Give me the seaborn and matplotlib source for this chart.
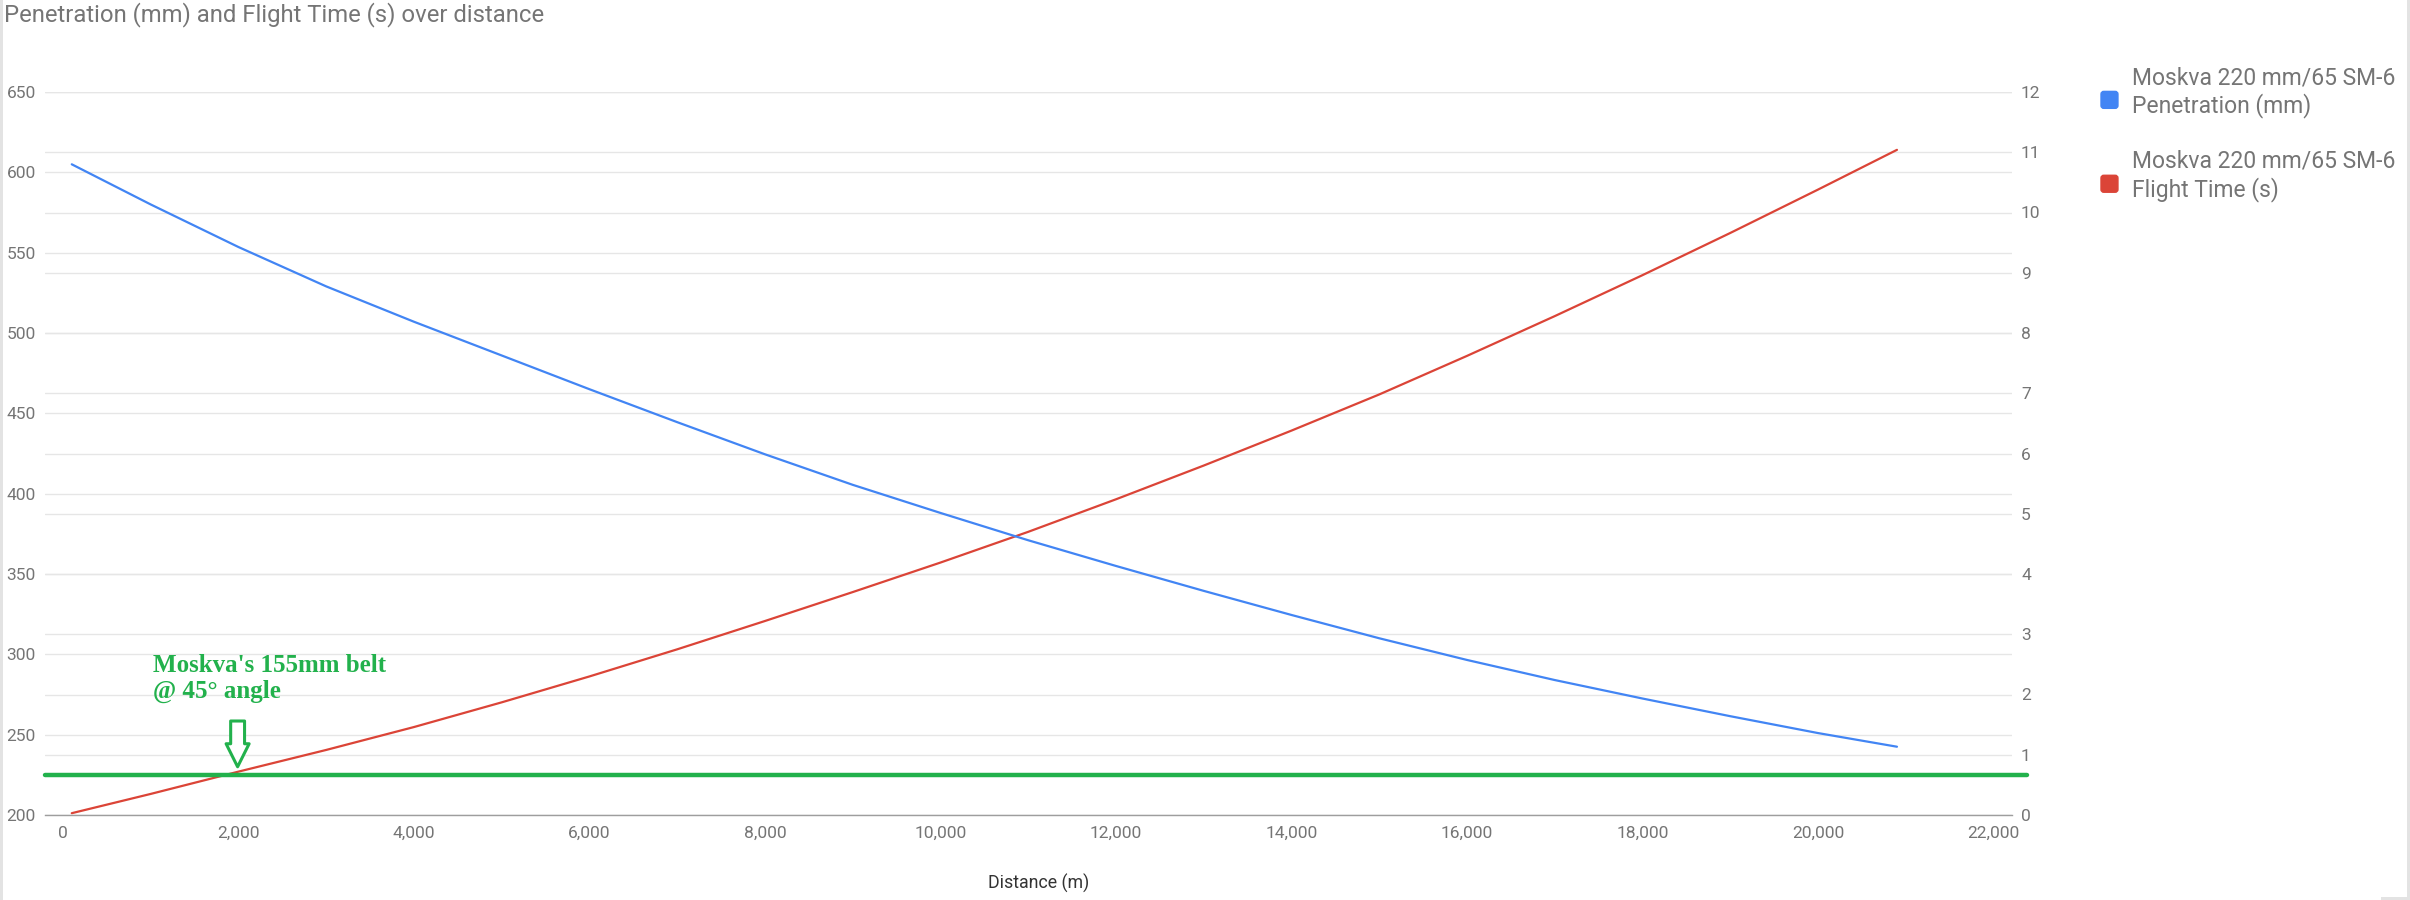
import numpy as np
import pandas as pd
import matplotlib
matplotlib.use("Agg")
import matplotlib.pyplot as plt
import seaborn as sns
from matplotlib.patches import Patch, Rectangle, FancyBboxPatch
from matplotlib.legend_handler import HandlerPatch
from matplotlib.ticker import FuncFormatter, FixedLocator

# ---------------- data ----------------
distance_m = [100, 1000, 2000, 3000, 4000, 5000, 6000, 7000, 8000, 9000, 10000,
              11000, 12000, 13000, 14000, 15000, 16000, 17000, 18000, 19000, 20000, 20900]
penetration_mm = [605, 580, 553.5, 529, 507, 486, 465, 444.5, 424.5, 405.5, 388,
                  371, 355, 339.5, 324.5, 310, 296.5, 284, 272.5, 261.5, 251, 242.5]
flight_time_s = [0.03, 0.35, 0.72, 1.08, 1.46, 1.87, 2.30, 2.75, 3.22, 3.70, 4.19,
                 4.70, 5.24, 5.80, 6.38, 6.98, 7.62, 8.28, 8.96, 9.66, 10.38, 11.04]
series_names = ["Moskva 220 mm/65 SM-6\nPenetration (mm)",
                "Moskva 220 mm/65 SM-6\nFlight Time (s)"]
belt_value_mm = 225
belt_label = "Moskva's 155mm belt\n@ 45° angle"
title_text = "Penetration (mm) and Flight Time (s) over distance"
x_label = "Distance (m)"
x_ticks = list(range(0, 22001, 2000))
left_ticks = list(range(200, 651, 50))
right_ticks = list(range(0, 13))

# ---------------- style ----------------
BLUE = "#4285f4"
RED = "#db4437"
GREEN = "#22b14c"
TXT = "#757575"
GRID = "#e6e6e6"

sns.set_theme(style="white")
plt.rcParams['font.family'] = ['Roboto', 'DejaVu Sans']

W, H = 2410, 900
fig = plt.figure(figsize=(W / 100, H / 100), dpi=100)
fig.patch.set_facecolor("white")

L, R, T, B = 45, 2012, 92, 815
pos = [L / W, 1 - B / H, (R - L) / W, (B - T) / H]

# background axes that only carries the left-scale gridlines (beneath all lines)
gax = fig.add_axes(pos, zorder=0)
gax.set_ylim(200, 650)
gax.yaxis.set_major_locator(FixedLocator(left_ticks))
gax.grid(axis="y", color=GRID, linewidth=1.0)
gax.grid(axis="x", visible=False)
gax.tick_params(left=False, bottom=False, labelleft=False, labelbottom=False)
for s in gax.spines.values():
    s.set_visible(False)

ax = fig.add_axes(pos, zorder=2)
ax2 = ax.twinx()
ax2.set_zorder(1)
ax.patch.set_visible(False)
ax2.patch.set_visible(False)

df = pd.DataFrame({"distance": distance_m,
                   "penetration": penetration_mm,
                   "flight_time": flight_time_s})

sns.lineplot(data=df, x="distance", y="flight_time", ax=ax2, color=RED,
             linewidth=1.6, legend=False)
sns.lineplot(data=df, x="distance", y="penetration", ax=ax, color=BLUE,
             linewidth=1.6, legend=False)

ax.set_xlim(-205, 22211)
gax.set_xlim(-205, 22211)
ax.set_ylim(200, 650)
ax2.set_ylim(0, 12)

ax.xaxis.set_major_locator(FixedLocator(x_ticks))
ax.xaxis.set_major_formatter(FuncFormatter(lambda v, p: f"{int(v):,}"))
ax.yaxis.set_major_locator(FixedLocator(left_ticks))
ax2.yaxis.set_major_locator(FixedLocator(right_ticks))

for a in (ax, ax2):
    for s in a.spines.values():
        s.set_visible(False)
    a.tick_params(length=0, labelsize=12.5, labelcolor=TXT)
    a.set_xlabel("")
    a.set_ylabel("")
    a.grid(False)

ax2.grid(axis="y", color=GRID, linewidth=1.0)
ax2.grid(axis="x", visible=False)
ax2.set_axisbelow(True)

ax.spines["bottom"].set_visible(True)
ax.spines["bottom"].set_color("#9e9e9e")
ax.spines["bottom"].set_linewidth(1.0)
ax.tick_params(axis="y", pad=6.5)
ax2.tick_params(axis="y", pad=6.5)
ax.tick_params(axis="x", pad=8)
ax2.tick_params(axis="x", bottom=False, labelbottom=False)

ax.set_xlabel(x_label, fontsize=12.8, color="#333333")
ax.xaxis.label.set_va("center")
ax.xaxis.set_label_coords((1039 - L) / (R - L), (B - 883) / (B - T))

# green belt line (extends slightly past the plot area)
ax.axhline(belt_value_mm, xmin=0, xmax=(2027 - L) / (R - L), color=GREEN,
           linewidth=3.2, clip_on=False, zorder=5)

# annotation text and hollow arrow
ax.text(1026, 300.5, belt_label, color=GREEN, fontsize=18, fontweight="bold",
        family=["Liberation Serif", "DejaVu Serif"], va="top", ha="left",
        linespacing=1.18, zorder=6)
ax.annotate("", xy=(1990, 230), xytext=(1990, 258.5),
            arrowprops=dict(arrowstyle="simple,head_length=0.83,head_width=0.83,tail_width=0.5",
                            fc="white", ec=GREEN, lw=2.2, shrinkA=0, shrinkB=0,
                            mutation_scale=20),
            zorder=6)

# title
fig.text(4 / W, 1 - 21 / H, title_text, fontsize=17.2, color=TXT,
         ha="left", va="baseline")


# legend with rounded square markers
def rounded_square(legend, orig_handle, xdescent, ydescent, width, height, fontsize):
    size = 12.2
    return FancyBboxPatch((-xdescent, -ydescent + (height - size) / 2 - 5.0), size, size,
                          boxstyle="round,pad=0,rounding_size=2")


handles = [Patch(facecolor=BLUE, edgecolor=BLUE), Patch(facecolor=RED, edgecolor=RED)]
fig.legend(handles=handles, labels=series_names, loc="upper left",
           bbox_to_anchor=(2101 / W, 1 - 66 / H), frameon=False, fontsize=16.5,
           handlelength=0.75, handleheight=0.75, handletextpad=0.6,
           labelspacing=1.4, borderpad=0, borderaxespad=0, labelcolor=TXT,
           handler_map={Patch: HandlerPatch(patch_func=rounded_square)})

# screenshot border strips
fig.patches.append(Rectangle((0, 0), 3 / W, 1, transform=fig.transFigure,
                             facecolor="#e3e3e3", edgecolor="none"))
fig.patches.append(Rectangle((2407 / W, 0), 3 / W, 1, transform=fig.transFigure,
                             facecolor="#e3e3e3", edgecolor="none"))
fig.patches.append(Rectangle((2381 / W, 0), 29 / W, 3 / H, transform=fig.transFigure,
                             facecolor="#e3e3e3", edgecolor="none"))

fig.savefig("out.png", dpi=100)
